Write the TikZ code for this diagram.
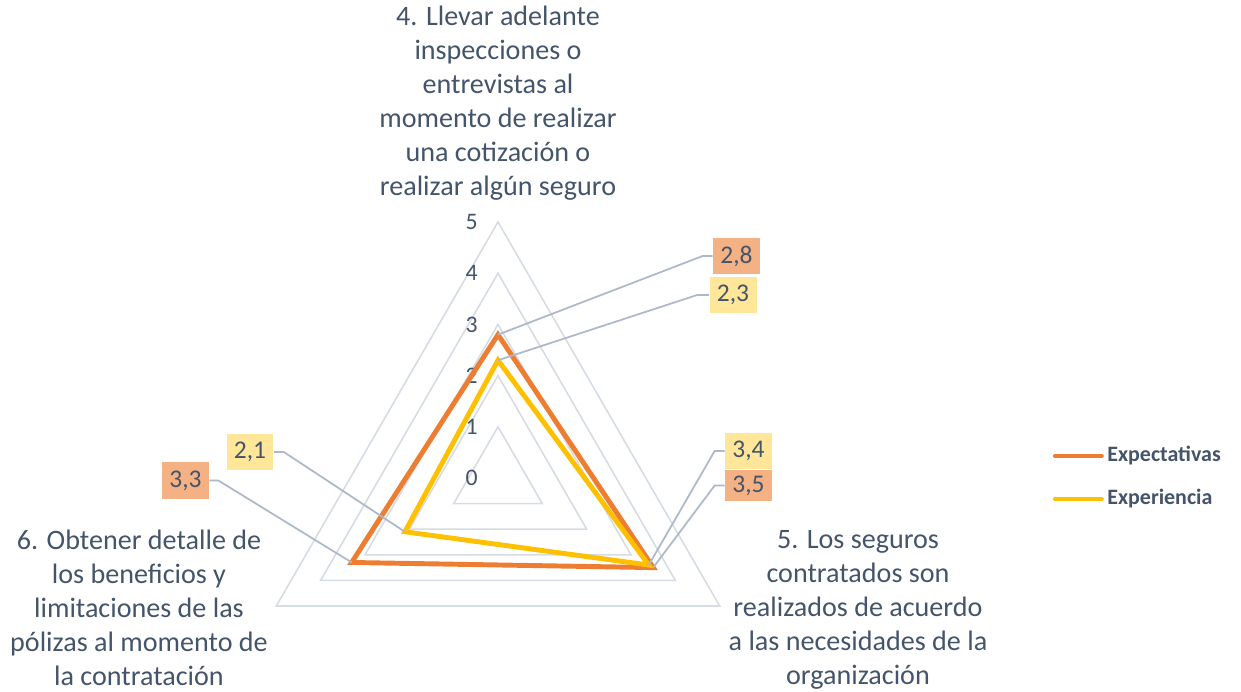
\documentclass[tikz,border=0pt]{standalone}
\usepackage{fontspec}
\setmainfont{Carlito}
\usetikzlibrary{positioning,calc}

\definecolor{txtgray}{HTML}{44546A}
\definecolor{gridgray}{HTML}{D6DCE4}
\definecolor{leadgray}{HTML}{ADB9CA}
\definecolor{expectcol}{HTML}{ED7D31}
\definecolor{expectfill}{HTML}{F4B183}
\definecolor{experiecol}{HTML}{FFC000}
\definecolor{experiefill}{HTML}{FFE699}

\tikzset{
  gridline/.style={draw=gridgray, line width=0.9pt, line join=miter},
  leader/.style={draw=leadgray, line width=1pt},
  valbox/.style={text=txtgray, font=\fontsize{14.5}{16}\selectfont, minimum width=0.94cm, minimum height=0.74cm, inner sep=1pt},
  catlabel/.style={text=txtgray, font=\fontsize{16}{19.3}\selectfont, align=center, inner sep=0pt},
  axisnum/.style={text=txtgray, font=\fontsize{13.5}{15}\selectfont, anchor=east, inner sep=0pt},
  serieline/.style={line width=2.8pt, line join=miter},
  legtext/.style={text=txtgray, font=\fontsize{12.5}{14}\bfseries\selectfont, anchor=west, inner sep=0pt}
}

\begin{document}
\begin{tikzpicture}[x=0.02cm, y=-0.02cm]
  \useasboundingbox (0,0) rectangle (1241,692);
  \coordinate (c) at (498,478);

  % grid
  \foreach \r in {1,...,5}
    \draw[gridline] ($(c)+(270:\r*51.2)$) -- ($(c)+(30:\r*51.2)$) -- ($(c)+(150:\r*51.2)$) -- cycle;
  \foreach \r in {0,...,5}
    \node[axisnum] (num\r) at (478,478-\r*51.2) {\r};

  % series
  \coordinate (ea) at ($(c)+(270:2.8*51.2)$);
  \coordinate (eb) at ($(c)+(30:3.5*51.2)$);
  \coordinate (ec) at ($(c)+(150:3.3*51.2)$);
  \coordinate (xa) at ($(c)+(270:2.3*51.2)$);
  \coordinate (xb) at ($(c)+(30:3.4*51.2)$);
  \coordinate (xc) at ($(c)+(150:2.1*51.2)$);
  \draw[serieline, expectcol] (ea) -- (eb) -- (ec) -- cycle;
  \draw[serieline, experiecol] (xa) -- (xb) -- (xc) -- cycle;

  % data labels
  \node (vea) [valbox, fill=expectfill] at (736.5,256) {2,8};
  \node (vxa) [valbox, fill=experiefill] at (733,295) {2,3};
  \node (vxb) [valbox, fill=experiefill] at (748.5,451) {3,4};
  \node (veb) [valbox, fill=expectfill, minimum height=0.62cm] at (748.5,485.5) {3,5};
  \node (vxc) [valbox, fill=experiefill] at (250,452) {2,1};
  \node (vec) [valbox, fill=expectfill] at (185.5,480.5) {3,3};

  \draw[leader] (vea.west) -- ++(-10,0) -- (ea);
  \draw[leader] (vxa.west) -- ++(-12,0) -- (xa);
  \draw[leader] (vxb.west) -- ++(-10,0) -- (xb);
  \draw[leader] (veb.west) -- ++(-10,0) -- (eb);
  \draw[leader] (vxc.east) -- ++(10,0) -- (xc);
  \draw[leader] (vec.east) -- ++(9,0) -- (ec);

  % categories
  \node (cat4) [catlabel, anchor=north] at (498,6) {4. Llevar adelante\\inspecciones o\\entrevistas al\\momento de realizar\\una cotización o\\realizar algún seguro};
  \node (cat5) [catlabel, anchor=north] at (858,530) {5. Los seguros\\contratados son\\realizados de acuerdo\\a las necesidades de la\\organización};
  \node (cat6) [catlabel, anchor=north] at (139,530) {6. Obtener detalle de\\los beneficios y\\limitaciones de las\\pólizas al momento de\\la contratación};

  % legend
  \coordinate (lega) at (1055,456);
  \coordinate (legb) at (1055,499);
  \node (legatxt) [legtext] at (1107,456) {Expectativas};
  \node (legbtxt) [legtext] at (1107,499) {Experiencia};
  \draw[expectcol, line width=2.4pt, line cap=round] (lega) -- ([xshift=-3pt]legatxt.west);
  \draw[experiecol, line width=2.4pt, line cap=round] (legb) -- ([xshift=-3pt]legbtxt.west);
\end{tikzpicture}
\end{document}
